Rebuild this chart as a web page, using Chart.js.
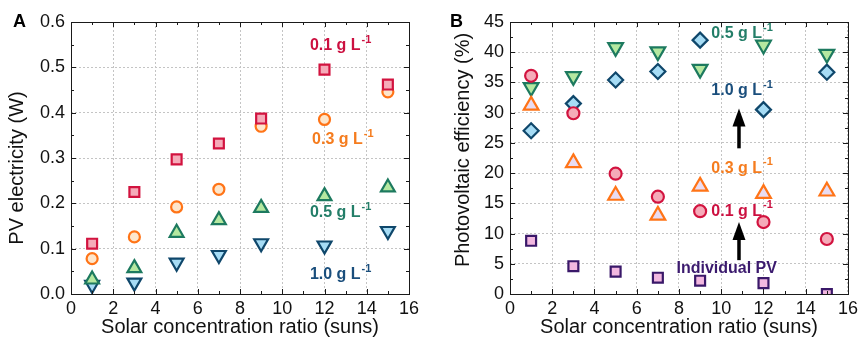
<!DOCTYPE html>
<html><head><meta charset="utf-8">
<script src="https://cdn.jsdelivr.net/npm/chart.js@4/dist/chart.umd.min.js"></script>
<style>
html,body{margin:0;padding:0;background:#fff;}
#wrap{position:relative;width:862px;height:339px;overflow:hidden;}
canvas{position:absolute;top:0;}
</style></head><body>
<div id="wrap">
<canvas id="cA" width="430" height="339" style="left:0"></canvas>
<canvas id="cB" width="432" height="339" style="left:430px"></canvas>
</div>
<script>
// ---------- data ----------
const suns = [1, 3, 5, 7, 9, 12, 15];
// Panel A: PV electricity (W)
const pvElec_01 = [0.111, 0.225, 0.297, 0.332, 0.387, 0.495, 0.462];
const pvElec_03 = [0.078, 0.126, 0.192, 0.231, 0.370, 0.385, 0.446];
const pvElec_05 = [0.032, 0.057, 0.135, 0.163, 0.190, 0.216, 0.235];
const pvElec_10 = [0.020, 0.025, 0.069, 0.086, 0.112, 0.107, 0.139];
// Panel B: Photovoltaic efficiency (%)
const pvEff_01 = [36.1, 29.9, 19.9, 16.1, 13.7, 11.9, 9.1];
const pvEff_03 = [31.2, 21.7, 16.3, 13.0, 17.8, 16.6, 17.0];
const pvEff_05 = [34.2, 36.0, 40.8, 40.1, 37.2, 41.2, 39.7];
const pvEff_10 = [27.0, 31.5, 35.4, 36.8, 42.0, 30.5, 36.7];
const pvEff_ind = [8.8, 4.6, 3.7, 2.7, 2.2, 1.8, 0.0];
// axes
const xRange = [0, 16], xStep = 2;
const yRangeA = [0, 0.6], yStepA = 0.1;
const yRangeB = [0, 45], yStepB = 5;
const xTitle = 'Solar concentration ratio (suns)';
const yTitleA = 'PV electricity (W)';
const yTitleB = 'Photovoltaic efficiency (%)';

// ---------- style ----------
const F = '"Liberation Sans", Arial, sans-serif';
const C = {
  red: '#d2133f', redFill: '#f5abb9',
  orange: '#ff7417', orangeFillA: '#fde6cc', orangeFillB: '#e9dcf2',
  green: '#1d7a5f', greenFill: '#b5e8a0',
  blue: '#0f476b', blueFill: '#a6dcf5',
  purple: '#3a1869', purpleFill: '#f2b8e0'
};
const TXT = { red: '#cc1040', orange: '#f57c1e', teal: '#237e68', navy: '#1a4e7c', purple: '#3b1a6e' };

function pts(ys) { return suns.map((x, i) => ({ x: x, y: ys[i] })); }
function ds(ys, shape, border, fill, r, rot, extra) {
  return Object.assign({
    data: pts(ys), pointStyle: shape, pointRadius: r, pointHoverRadius: r,
    pointRotation: rot || 0, borderColor: border, backgroundColor: fill,
    pointBorderWidth: 2.2, showLine: false
  }, extra || {});
}

// frame + inward ticks + y title + panel letter + annotations
function decoPlugin(cfg) {
  return {
    id: 'deco',
    afterDatasetsDraw(chart) {
      const ctx = chart.ctx, a = chart.chartArea;
      const xs = chart.scales.x, ys = chart.scales.y;
      ctx.save();
      ctx.strokeStyle = '#1a1a1a'; ctx.lineWidth = 1;
      ctx.strokeRect(Math.round(a.left) + 0.5, Math.round(a.top) + 0.5,
        Math.round(a.right - a.left), Math.round(a.bottom - a.top));
      for (let v = xRange[0]; v <= xRange[1] + 1e-9; v += cfg.xMinor) {
        const px = Math.round(xs.getPixelForValue(v)) + 0.5;
        const major = Math.abs(v / xStep - Math.round(v / xStep)) < 1e-6;
        const L = major ? 5 : 3;
        ctx.beginPath();
        ctx.moveTo(px, a.bottom); ctx.lineTo(px, a.bottom - L);
        ctx.moveTo(px, a.top); ctx.lineTo(px, a.top + L);
        ctx.stroke();
      }
      for (let v = cfg.yRange[0]; v <= cfg.yRange[1] + 1e-9; v += cfg.yMinor) {
        const py = Math.round(ys.getPixelForValue(v)) + 0.5;
        const major = Math.abs(v / cfg.yStep - Math.round(v / cfg.yStep)) < 1e-6;
        const L = major ? 5 : 3;
        ctx.beginPath();
        ctx.moveTo(a.left, py); ctx.lineTo(a.left + L, py);
        ctx.moveTo(a.right, py); ctx.lineTo(a.right - L, py);
        ctx.stroke();
      }
      // y title
      ctx.save();
      ctx.translate(cfg.yTitleX, cfg.yTitleY);
      ctx.rotate(-Math.PI / 2);
      ctx.font = '20px ' + F; ctx.fillStyle = '#111';
      ctx.textAlign = 'center'; ctx.textBaseline = 'middle';
      ctx.fillText(cfg.yTitle, 0, 0);
      ctx.restore();
      // panel letter
      ctx.font = 'bold 18px ' + F; ctx.fillStyle = '#000';
      ctx.textAlign = 'left'; ctx.textBaseline = 'middle';
      ctx.fillText(cfg.letter, cfg.letterX, 22);
      // annotations
      cfg.notes.forEach(n => {
        const x = xs.getPixelForValue(n.x), y = ys.getPixelForValue(n.y);
        ctx.fillStyle = n.color;
        ctx.font = 'bold 16px ' + F;
        ctx.textAlign = 'left'; ctx.textBaseline = 'middle';
        ctx.fillText(n.text, x, y);
        if (n.sup) {
          const w = ctx.measureText(n.text).width;
          ctx.font = 'bold 11px ' + F;
          ctx.fillText(n.sup, x + w + 1, y - 6);
        }
      });
      // arrows
      (cfg.arrows || []).forEach(ar => {
        const x = xs.getPixelForValue(ar.x);
        const y0 = ys.getPixelForValue(ar.from), y1 = ys.getPixelForValue(ar.to);
        ctx.fillStyle = '#000'; ctx.strokeStyle = '#000';
        ctx.lineWidth = 3.5;
        ctx.beginPath(); ctx.moveTo(x, y0); ctx.lineTo(x, y1 + 14); ctx.stroke();
        ctx.beginPath();
        ctx.moveTo(x, y1); ctx.lineTo(x - 6.5, y1 + 18); ctx.lineTo(x + 6.5, y1 + 18);
        ctx.closePath(); ctx.fill();
      });
      ctx.restore();
    }
  };
}

function scales(yRange, yStep, dec, yWidth, xHeight) {
  return {
    x: {
      type: 'linear', min: xRange[0], max: xRange[1],
      ticks: { stepSize: xStep, font: { family: F, size: 18 }, color: '#111', padding: 4, maxRotation: 0 },
      grid: { color: '#c4c4c4', drawTicks: false, lineWidth: 1 },
      border: { display: false, dash: [2, 2] },
      title: { display: true, text: xTitle, font: { family: F, size: 20 }, color: '#111', padding: { top: 0, bottom: 0 } },
      afterFit: s => { s.height = xHeight; }
    },
    y: {
      type: 'linear', min: yRange[0], max: yRange[1],
      ticks: { stepSize: yStep, font: { family: F, size: 18 }, color: '#111', padding: 6,
        callback: v => Number(v).toFixed(dec) },
      grid: { color: '#c4c4c4', drawTicks: false, lineWidth: 1 },
      border: { display: false, dash: [2, 2] },
      afterFit: s => { s.width = yWidth; }
    }
  };
}

const common = {
  responsive: false, animation: false,
  plugins: { legend: { display: false }, tooltip: { enabled: false } },
  events: []
};

new Chart(document.getElementById('cA'), {
  type: 'scatter',
  data: { datasets: [
    ds(pvElec_01, 'rect', C.red, C.redFill, 7),
    ds(pvElec_03, 'circle', C.orange, C.orangeFillA, 5.5),
    ds(pvElec_05, 'triangle', C.green, C.greenFill, 8),
    ds(pvElec_10, 'triangle', C.blue, C.blueFill, 8, 180)
  ] },
  options: Object.assign({}, common, {
    layout: { padding: { top: 22, right: 21, left: 0, bottom: 0 } },
    scales: scales(yRangeA, yStepA, 1, 71, 45)
  }),
  plugins: [decoPlugin({
    yRange: yRangeA, yStep: yStepA, yMinor: 0.05, xMinor: 1,
    yTitle: yTitleA, yTitleX: 17, yTitleY: 168, letter: 'A', letterX: 13,
    notes: [
      { text: '0.1 g L', sup: '-1', x: 11.31, y: 0.548, color: TXT.red },
      { text: '0.3 g L', sup: '-1', x: 11.41, y: 0.340, color: TXT.orange },
      { text: '0.5 g L', sup: '-1', x: 11.31, y: 0.179, color: TXT.teal },
      { text: '1.0 g L', sup: '-1', x: 11.31, y: 0.042, color: TXT.navy }
    ]
  })]
});

new Chart(document.getElementById('cB'), {
  type: 'scatter',
  data: { datasets: [
    ds(pvEff_01, 'circle', C.red, C.redFill, 6),
    ds(pvEff_03, 'triangle', C.orange, C.orangeFillB, 8.5),
    ds(pvEff_05, 'triangle', C.green, C.greenFill, 8.5, 180),
    ds(pvEff_10, 'rectRot', C.blue, C.blueFill, 7.5),
    ds(pvEff_ind, 'rect', C.purple, C.purpleFill, 7, 0, { clip: 0 })
  ] },
  options: Object.assign({}, common, {
    layout: { padding: { top: 22, right: 11, left: 0, bottom: 0 } },
    scales: scales(yRangeB, yStepB, 0, 80, 45)
  }),
  plugins: [decoPlugin({
    yRange: yRangeB, yStep: yStepB, yMinor: 2.5, xMinor: 1,
    yTitle: yTitleB, yTitleX: 33, yTitleY: 150, letter: 'B', letterX: 20,
    notes: [
      { text: '0.5 g L', sup: '-1', x: 9.53, y: 43.0, color: TXT.teal },
      { text: '1.0 g L', sup: '-1', x: 9.53, y: 33.6, color: TXT.navy },
      { text: '0.3 g L', sup: '-1', x: 9.53, y: 20.8, color: TXT.orange },
      { text: '0.1 g L', sup: '-1', x: 9.53, y: 13.7, color: TXT.red },
      { text: 'Individual PV', x: 7.88, y: 4.2, color: TXT.purple }
    ],
    arrows: [
      { x: 10.84, from: 24.1, to: 30.7 },
      { x: 10.84, from: 5.6, to: 11.9 }
    ]
  })]
});
</script>
</body></html>
